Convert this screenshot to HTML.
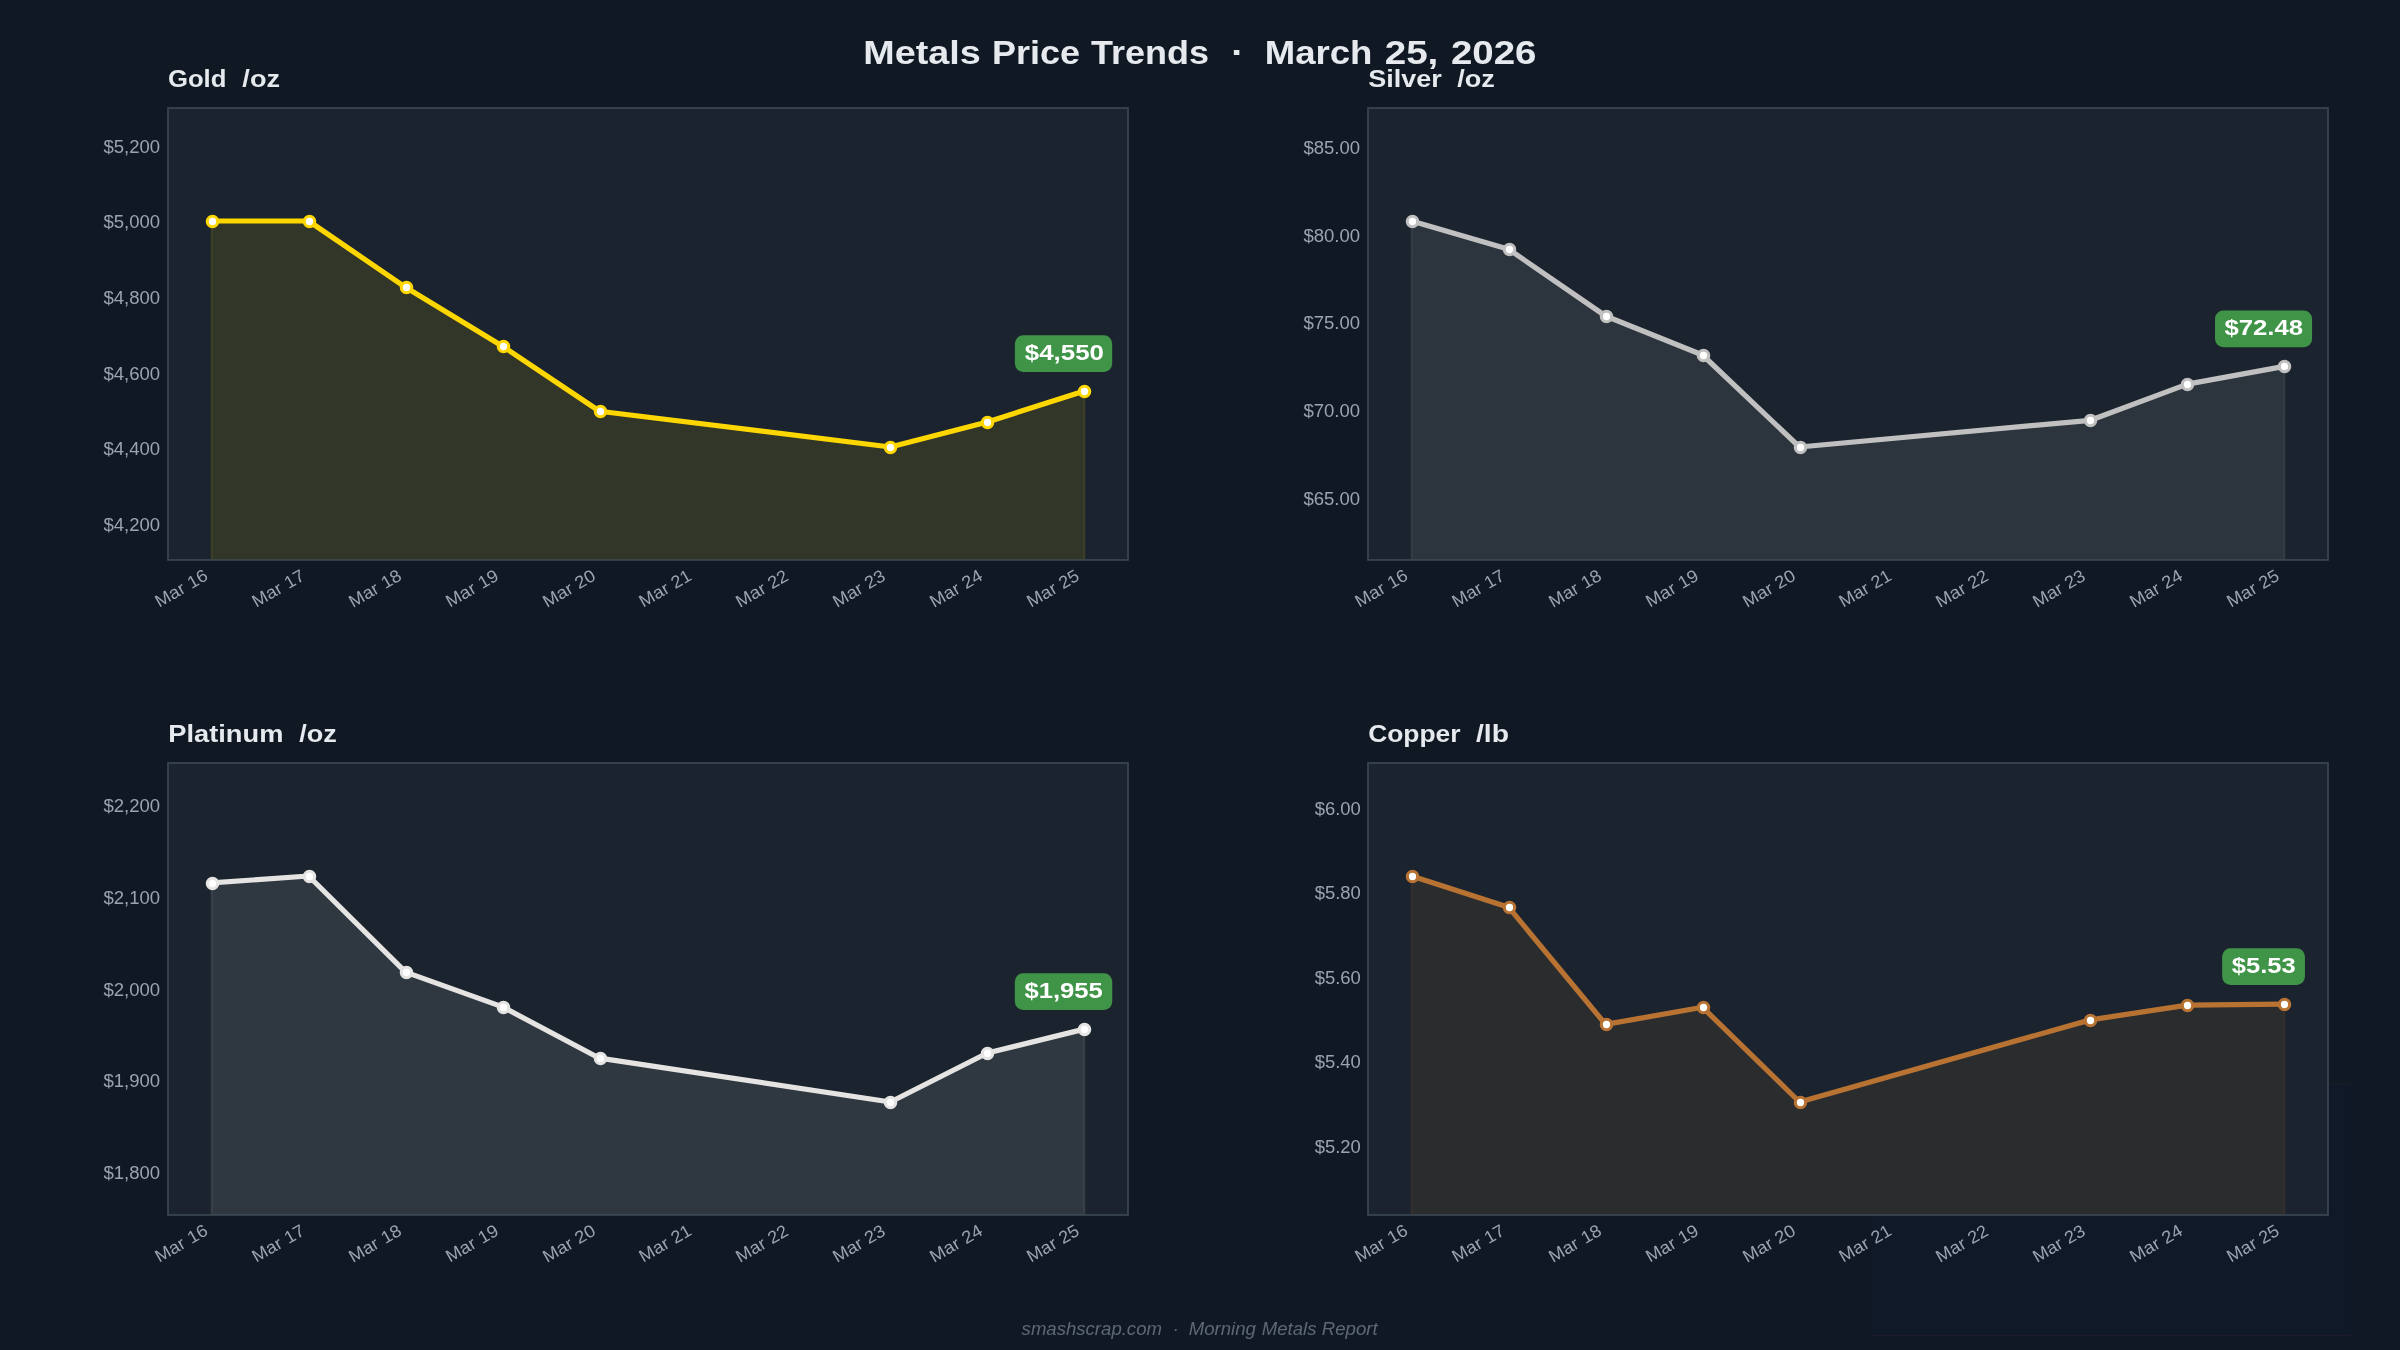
<!DOCTYPE html><html><head><meta charset="utf-8"><style>html,body{margin:0;padding:0;background:#101923;}svg{display:block;will-change:transform}text{font-family:"Liberation Sans",sans-serif;white-space:pre;}</style></head><body>
<svg width="2400" height="1350" viewBox="0 0 2400 1350">
<rect x="0" y="0" width="2400" height="1350" fill="#101923"/>
<rect x="1872" y="1083.5" width="479" height="252" fill="rgb(16,40,160)" fill-opacity="0.035"/>
<line x1="1872" y1="1335.5" x2="2351" y2="1335.5" stroke="rgb(200,60,120)" stroke-opacity="0.08" stroke-width="1"/>
<line x1="2328" y1="1083.5" x2="2351" y2="1083.5" stroke="rgb(200,60,120)" stroke-opacity="0.06" stroke-width="1"/>
<g>
<clipPath id="clip0"><rect x="168.00" y="108.00" width="960.00" height="452.00"/></clipPath>
<rect x="168.00" y="108.00" width="960.00" height="452.00" fill="#1b242e"/>
<polygon points="211.64,560.00 211.64,221.00 308.61,221.00 405.58,287.35 502.55,346.20 599.52,411.26 890.42,447.00 987.39,421.96 1084.36,391.10 1084.36,560.00" fill="#FFD700" fill-opacity="0.1" stroke="#FFD700" stroke-opacity="0.1" stroke-width="2.08" clip-path="url(#clip0)"/>
<polyline points="211.64,221.00 308.61,221.00 405.58,287.35 502.55,346.20 599.52,411.26 890.42,447.00 987.39,421.96 1084.36,391.10" fill="none" stroke="#FFD700" stroke-width="5.21" stroke-linejoin="round" stroke-linecap="butt"/>
<circle cx="212.50" cy="221.50" r="5.21" fill="white" stroke="#FFD700" stroke-width="3.12"/>
<circle cx="309.50" cy="221.50" r="5.21" fill="white" stroke="#FFD700" stroke-width="3.12"/>
<circle cx="406.50" cy="287.50" r="5.21" fill="white" stroke="#FFD700" stroke-width="3.12"/>
<circle cx="503.50" cy="346.50" r="5.21" fill="white" stroke="#FFD700" stroke-width="3.12"/>
<circle cx="600.50" cy="411.50" r="5.21" fill="white" stroke="#FFD700" stroke-width="3.12"/>
<circle cx="890.50" cy="447.50" r="5.21" fill="white" stroke="#FFD700" stroke-width="3.12"/>
<circle cx="987.50" cy="422.50" r="5.21" fill="white" stroke="#FFD700" stroke-width="3.12"/>
<circle cx="1084.50" cy="391.50" r="5.21" fill="white" stroke="#FFD700" stroke-width="3.12"/>
<rect x="168.00" y="108.00" width="960.00" height="452.00" fill="none" stroke="#3a4652" stroke-width="1.67"/>
</g>
<g>
<clipPath id="clip1"><rect x="1368.00" y="108.00" width="960.00" height="452.00"/></clipPath>
<rect x="1368.00" y="108.00" width="960.00" height="452.00" fill="#1b242e"/>
<polygon points="1411.64,560.00 1411.64,221.00 1508.61,249.20 1605.58,316.00 1702.55,355.00 1799.52,447.00 2090.42,420.30 2187.39,384.10 2284.36,366.40 2284.36,560.00" fill="#C0C0C0" fill-opacity="0.1" stroke="#C0C0C0" stroke-opacity="0.1" stroke-width="2.08" clip-path="url(#clip1)"/>
<polyline points="1411.64,221.00 1508.61,249.20 1605.58,316.00 1702.55,355.00 1799.52,447.00 2090.42,420.30 2187.39,384.10 2284.36,366.40" fill="none" stroke="#C0C0C0" stroke-width="5.21" stroke-linejoin="round" stroke-linecap="butt"/>
<circle cx="1412.50" cy="221.50" r="5.21" fill="white" stroke="#C0C0C0" stroke-width="3.12"/>
<circle cx="1509.50" cy="249.50" r="5.21" fill="white" stroke="#C0C0C0" stroke-width="3.12"/>
<circle cx="1606.50" cy="316.50" r="5.21" fill="white" stroke="#C0C0C0" stroke-width="3.12"/>
<circle cx="1703.50" cy="355.50" r="5.21" fill="white" stroke="#C0C0C0" stroke-width="3.12"/>
<circle cx="1800.50" cy="447.50" r="5.21" fill="white" stroke="#C0C0C0" stroke-width="3.12"/>
<circle cx="2090.50" cy="420.50" r="5.21" fill="white" stroke="#C0C0C0" stroke-width="3.12"/>
<circle cx="2187.50" cy="384.50" r="5.21" fill="white" stroke="#C0C0C0" stroke-width="3.12"/>
<circle cx="2284.50" cy="366.50" r="5.21" fill="white" stroke="#C0C0C0" stroke-width="3.12"/>
<rect x="1368.00" y="108.00" width="960.00" height="452.00" fill="none" stroke="#3a4652" stroke-width="1.67"/>
</g>
<g>
<clipPath id="clip2"><rect x="168.00" y="763.00" width="960.00" height="452.00"/></clipPath>
<rect x="168.00" y="763.00" width="960.00" height="452.00" fill="#1b242e"/>
<polygon points="211.64,1215.00 211.64,882.90 308.61,876.00 405.58,972.10 502.55,1006.90 599.52,1058.20 890.42,1102.00 987.39,1053.00 1084.36,1029.10 1084.36,1215.00" fill="#E5E4E2" fill-opacity="0.1" stroke="#E5E4E2" stroke-opacity="0.1" stroke-width="2.08" clip-path="url(#clip2)"/>
<polyline points="211.64,882.90 308.61,876.00 405.58,972.10 502.55,1006.90 599.52,1058.20 890.42,1102.00 987.39,1053.00 1084.36,1029.10" fill="none" stroke="#E5E4E2" stroke-width="5.21" stroke-linejoin="round" stroke-linecap="butt"/>
<circle cx="212.50" cy="883.50" r="5.21" fill="white" stroke="#E5E4E2" stroke-width="3.12"/>
<circle cx="309.50" cy="876.50" r="5.21" fill="white" stroke="#E5E4E2" stroke-width="3.12"/>
<circle cx="406.50" cy="972.50" r="5.21" fill="white" stroke="#E5E4E2" stroke-width="3.12"/>
<circle cx="503.50" cy="1007.50" r="5.21" fill="white" stroke="#E5E4E2" stroke-width="3.12"/>
<circle cx="600.50" cy="1058.50" r="5.21" fill="white" stroke="#E5E4E2" stroke-width="3.12"/>
<circle cx="890.50" cy="1102.50" r="5.21" fill="white" stroke="#E5E4E2" stroke-width="3.12"/>
<circle cx="987.50" cy="1053.50" r="5.21" fill="white" stroke="#E5E4E2" stroke-width="3.12"/>
<circle cx="1084.50" cy="1029.50" r="5.21" fill="white" stroke="#E5E4E2" stroke-width="3.12"/>
<rect x="168.00" y="763.00" width="960.00" height="452.00" fill="none" stroke="#3a4652" stroke-width="1.67"/>
</g>
<g>
<clipPath id="clip3"><rect x="1368.00" y="763.00" width="960.00" height="452.00"/></clipPath>
<rect x="1368.00" y="763.00" width="960.00" height="452.00" fill="#1b242e"/>
<polygon points="1411.64,1215.00 1411.64,876.00 1508.61,907.20 1605.58,1024.38 1702.55,1007.28 1799.52,1102.00 2090.42,1019.88 2187.39,1005.08 2284.36,1004.08 2284.36,1215.00" fill="#B87333" fill-opacity="0.1" stroke="#B87333" stroke-opacity="0.1" stroke-width="2.08" clip-path="url(#clip3)"/>
<polyline points="1411.64,876.00 1508.61,907.20 1605.58,1024.38 1702.55,1007.28 1799.52,1102.00 2090.42,1019.88 2187.39,1005.08 2284.36,1004.08" fill="none" stroke="#B87333" stroke-width="5.21" stroke-linejoin="round" stroke-linecap="butt"/>
<circle cx="1412.50" cy="876.50" r="5.21" fill="white" stroke="#B87333" stroke-width="3.12"/>
<circle cx="1509.50" cy="907.50" r="5.21" fill="white" stroke="#B87333" stroke-width="3.12"/>
<circle cx="1606.50" cy="1024.50" r="5.21" fill="white" stroke="#B87333" stroke-width="3.12"/>
<circle cx="1703.50" cy="1007.50" r="5.21" fill="white" stroke="#B87333" stroke-width="3.12"/>
<circle cx="1800.50" cy="1102.50" r="5.21" fill="white" stroke="#B87333" stroke-width="3.12"/>
<circle cx="2090.50" cy="1020.50" r="5.21" fill="white" stroke="#B87333" stroke-width="3.12"/>
<circle cx="2187.50" cy="1005.50" r="5.21" fill="white" stroke="#B87333" stroke-width="3.12"/>
<circle cx="2284.50" cy="1004.50" r="5.21" fill="white" stroke="#B87333" stroke-width="3.12"/>
<rect x="1368.00" y="763.00" width="960.00" height="452.00" fill="none" stroke="#3a4652" stroke-width="1.67"/>
</g>
<rect x="1014.89" y="335.26" width="97.29" height="36.67" rx="8.33" fill="#409447"/>
<rect x="2215.01" y="310.56" width="97.04" height="36.67" rx="8.33" fill="#409447"/>
<rect x="1014.83" y="973.26" width="97.42" height="36.67" rx="8.33" fill="#409447"/>
<rect x="2222.14" y="948.25" width="82.79" height="36.67" rx="8.33" fill="#409447"/>
<text x="103.40" y="152.60" font-size="17.50" font-weight="normal" font-style="normal" fill="#9aa4af" textLength="56.74" lengthAdjust="spacingAndGlyphs">$5,200</text>
<text x="103.40" y="227.60" font-size="17.50" font-weight="normal" font-style="normal" fill="#9aa4af" textLength="56.74" lengthAdjust="spacingAndGlyphs">$5,000</text>
<text x="103.40" y="303.60" font-size="17.50" font-weight="normal" font-style="normal" fill="#9aa4af" textLength="56.74" lengthAdjust="spacingAndGlyphs">$4,800</text>
<text x="103.40" y="379.60" font-size="17.50" font-weight="normal" font-style="normal" fill="#9aa4af" textLength="56.74" lengthAdjust="spacingAndGlyphs">$4,600</text>
<text x="103.40" y="454.60" font-size="17.50" font-weight="normal" font-style="normal" fill="#9aa4af" textLength="56.74" lengthAdjust="spacingAndGlyphs">$4,400</text>
<text x="103.40" y="530.60" font-size="17.50" font-weight="normal" font-style="normal" fill="#9aa4af" textLength="56.74" lengthAdjust="spacingAndGlyphs">$4,200</text>
<text x="159.31" y="607.77" font-size="17.50" font-weight="normal" font-style="normal" fill="#9aa4af" textLength="31.62" lengthAdjust="spacingAndGlyphs" transform="rotate(-30 159.31 607.77)">Mar</text>
<text x="191.42" y="589.23" font-size="17.50" font-weight="normal" font-style="normal" fill="#9aa4af" textLength="20.55" lengthAdjust="spacingAndGlyphs" transform="rotate(-30 191.42 589.23)">16</text>
<text x="256.31" y="607.76" font-size="17.50" font-weight="normal" font-style="normal" fill="#9aa4af" textLength="31.62" lengthAdjust="spacingAndGlyphs" transform="rotate(-30 256.31 607.76)">Mar</text>
<text x="288.44" y="589.21" font-size="17.50" font-weight="normal" font-style="normal" fill="#9aa4af" textLength="20.28" lengthAdjust="spacingAndGlyphs" transform="rotate(-30 288.44 589.21)">17</text>
<text x="353.04" y="607.92" font-size="17.50" font-weight="normal" font-style="normal" fill="#9aa4af" textLength="31.62" lengthAdjust="spacingAndGlyphs" transform="rotate(-30 353.04 607.92)">Mar</text>
<text x="385.16" y="589.37" font-size="17.50" font-weight="normal" font-style="normal" fill="#9aa4af" textLength="20.45" lengthAdjust="spacingAndGlyphs" transform="rotate(-30 385.16 589.37)">18</text>
<text x="450.12" y="607.84" font-size="17.50" font-weight="normal" font-style="normal" fill="#9aa4af" textLength="31.62" lengthAdjust="spacingAndGlyphs" transform="rotate(-30 450.12 607.84)">Mar</text>
<text x="482.24" y="589.30" font-size="17.50" font-weight="normal" font-style="normal" fill="#9aa4af" textLength="20.46" lengthAdjust="spacingAndGlyphs" transform="rotate(-30 482.24 589.30)">19</text>
<text x="547.07" y="607.94" font-size="17.50" font-weight="normal" font-style="normal" fill="#9aa4af" textLength="31.62" lengthAdjust="spacingAndGlyphs" transform="rotate(-30 547.07 607.94)">Mar</text>
<text x="579.04" y="589.48" font-size="17.50" font-weight="normal" font-style="normal" fill="#9aa4af" textLength="20.58" lengthAdjust="spacingAndGlyphs" transform="rotate(-30 579.04 589.48)">20</text>
<text x="643.33" y="607.78" font-size="17.50" font-weight="normal" font-style="normal" fill="#9aa4af" textLength="31.62" lengthAdjust="spacingAndGlyphs" transform="rotate(-30 643.33 607.78)">Mar</text>
<text x="675.31" y="589.32" font-size="17.50" font-weight="normal" font-style="normal" fill="#9aa4af" textLength="20.32" lengthAdjust="spacingAndGlyphs" transform="rotate(-30 675.31 589.32)">21</text>
<text x="740.11" y="607.95" font-size="17.50" font-weight="normal" font-style="normal" fill="#9aa4af" textLength="31.62" lengthAdjust="spacingAndGlyphs" transform="rotate(-30 740.11 607.95)">Mar</text>
<text x="772.09" y="589.48" font-size="17.50" font-weight="normal" font-style="normal" fill="#9aa4af" textLength="20.24" lengthAdjust="spacingAndGlyphs" transform="rotate(-30 772.09 589.48)">22</text>
<text x="836.91" y="608.02" font-size="17.50" font-weight="normal" font-style="normal" fill="#9aa4af" textLength="31.62" lengthAdjust="spacingAndGlyphs" transform="rotate(-30 836.91 608.02)">Mar</text>
<text x="868.89" y="589.56" font-size="17.50" font-weight="normal" font-style="normal" fill="#9aa4af" textLength="20.45" lengthAdjust="spacingAndGlyphs" transform="rotate(-30 868.89 589.56)">23</text>
<text x="934.09" y="607.96" font-size="17.50" font-weight="normal" font-style="normal" fill="#9aa4af" textLength="31.62" lengthAdjust="spacingAndGlyphs" transform="rotate(-30 934.09 607.96)">Mar</text>
<text x="966.06" y="589.50" font-size="17.50" font-weight="normal" font-style="normal" fill="#9aa4af" textLength="20.56" lengthAdjust="spacingAndGlyphs" transform="rotate(-30 966.06 589.50)">24</text>
<text x="1031.08" y="607.86" font-size="17.50" font-weight="normal" font-style="normal" fill="#9aa4af" textLength="31.62" lengthAdjust="spacingAndGlyphs" transform="rotate(-30 1031.08 607.86)">Mar</text>
<text x="1063.07" y="589.39" font-size="17.50" font-weight="normal" font-style="normal" fill="#9aa4af" textLength="20.27" lengthAdjust="spacingAndGlyphs" transform="rotate(-30 1063.07 589.39)">25</text>
<text x="167.97" y="86.65" font-size="24.06" font-weight="bold" font-style="normal" fill="#e6e9ed" textLength="58.44" lengthAdjust="spacingAndGlyphs">Gold</text>
<text x="242.36" y="86.65" font-size="24.06" font-weight="bold" font-style="normal" fill="#e6e9ed" textLength="37.63" lengthAdjust="spacingAndGlyphs">/oz</text>
<text x="1024.80" y="359.88" font-size="21.88" font-weight="bold" font-style="normal" fill="#ffffff" textLength="79.15" lengthAdjust="spacingAndGlyphs">$4,550</text>
<text x="1303.40" y="153.60" font-size="17.50" font-weight="normal" font-style="normal" fill="#9aa4af" textLength="56.74" lengthAdjust="spacingAndGlyphs">$85.00</text>
<text x="1303.40" y="241.60" font-size="17.50" font-weight="normal" font-style="normal" fill="#9aa4af" textLength="56.74" lengthAdjust="spacingAndGlyphs">$80.00</text>
<text x="1303.40" y="328.60" font-size="17.50" font-weight="normal" font-style="normal" fill="#9aa4af" textLength="56.74" lengthAdjust="spacingAndGlyphs">$75.00</text>
<text x="1303.40" y="416.60" font-size="17.50" font-weight="normal" font-style="normal" fill="#9aa4af" textLength="56.74" lengthAdjust="spacingAndGlyphs">$70.00</text>
<text x="1303.40" y="504.60" font-size="17.50" font-weight="normal" font-style="normal" fill="#9aa4af" textLength="56.74" lengthAdjust="spacingAndGlyphs">$65.00</text>
<text x="1359.31" y="607.77" font-size="17.50" font-weight="normal" font-style="normal" fill="#9aa4af" textLength="31.62" lengthAdjust="spacingAndGlyphs" transform="rotate(-30 1359.31 607.77)">Mar</text>
<text x="1391.42" y="589.23" font-size="17.50" font-weight="normal" font-style="normal" fill="#9aa4af" textLength="20.55" lengthAdjust="spacingAndGlyphs" transform="rotate(-30 1391.42 589.23)">16</text>
<text x="1456.31" y="607.76" font-size="17.50" font-weight="normal" font-style="normal" fill="#9aa4af" textLength="31.62" lengthAdjust="spacingAndGlyphs" transform="rotate(-30 1456.31 607.76)">Mar</text>
<text x="1488.44" y="589.21" font-size="17.50" font-weight="normal" font-style="normal" fill="#9aa4af" textLength="20.28" lengthAdjust="spacingAndGlyphs" transform="rotate(-30 1488.44 589.21)">17</text>
<text x="1553.04" y="607.92" font-size="17.50" font-weight="normal" font-style="normal" fill="#9aa4af" textLength="31.62" lengthAdjust="spacingAndGlyphs" transform="rotate(-30 1553.04 607.92)">Mar</text>
<text x="1585.16" y="589.37" font-size="17.50" font-weight="normal" font-style="normal" fill="#9aa4af" textLength="20.45" lengthAdjust="spacingAndGlyphs" transform="rotate(-30 1585.16 589.37)">18</text>
<text x="1650.12" y="607.84" font-size="17.50" font-weight="normal" font-style="normal" fill="#9aa4af" textLength="31.62" lengthAdjust="spacingAndGlyphs" transform="rotate(-30 1650.12 607.84)">Mar</text>
<text x="1682.24" y="589.30" font-size="17.50" font-weight="normal" font-style="normal" fill="#9aa4af" textLength="20.46" lengthAdjust="spacingAndGlyphs" transform="rotate(-30 1682.24 589.30)">19</text>
<text x="1747.07" y="607.94" font-size="17.50" font-weight="normal" font-style="normal" fill="#9aa4af" textLength="31.62" lengthAdjust="spacingAndGlyphs" transform="rotate(-30 1747.07 607.94)">Mar</text>
<text x="1779.04" y="589.48" font-size="17.50" font-weight="normal" font-style="normal" fill="#9aa4af" textLength="20.58" lengthAdjust="spacingAndGlyphs" transform="rotate(-30 1779.04 589.48)">20</text>
<text x="1843.33" y="607.78" font-size="17.50" font-weight="normal" font-style="normal" fill="#9aa4af" textLength="31.62" lengthAdjust="spacingAndGlyphs" transform="rotate(-30 1843.33 607.78)">Mar</text>
<text x="1875.31" y="589.32" font-size="17.50" font-weight="normal" font-style="normal" fill="#9aa4af" textLength="20.32" lengthAdjust="spacingAndGlyphs" transform="rotate(-30 1875.31 589.32)">21</text>
<text x="1940.11" y="607.95" font-size="17.50" font-weight="normal" font-style="normal" fill="#9aa4af" textLength="31.62" lengthAdjust="spacingAndGlyphs" transform="rotate(-30 1940.11 607.95)">Mar</text>
<text x="1972.09" y="589.48" font-size="17.50" font-weight="normal" font-style="normal" fill="#9aa4af" textLength="20.24" lengthAdjust="spacingAndGlyphs" transform="rotate(-30 1972.09 589.48)">22</text>
<text x="2036.91" y="608.02" font-size="17.50" font-weight="normal" font-style="normal" fill="#9aa4af" textLength="31.62" lengthAdjust="spacingAndGlyphs" transform="rotate(-30 2036.91 608.02)">Mar</text>
<text x="2068.89" y="589.56" font-size="17.50" font-weight="normal" font-style="normal" fill="#9aa4af" textLength="20.45" lengthAdjust="spacingAndGlyphs" transform="rotate(-30 2068.89 589.56)">23</text>
<text x="2134.09" y="607.96" font-size="17.50" font-weight="normal" font-style="normal" fill="#9aa4af" textLength="31.62" lengthAdjust="spacingAndGlyphs" transform="rotate(-30 2134.09 607.96)">Mar</text>
<text x="2166.06" y="589.50" font-size="17.50" font-weight="normal" font-style="normal" fill="#9aa4af" textLength="20.56" lengthAdjust="spacingAndGlyphs" transform="rotate(-30 2166.06 589.50)">24</text>
<text x="2231.08" y="607.86" font-size="17.50" font-weight="normal" font-style="normal" fill="#9aa4af" textLength="31.62" lengthAdjust="spacingAndGlyphs" transform="rotate(-30 2231.08 607.86)">Mar</text>
<text x="2263.07" y="589.39" font-size="17.50" font-weight="normal" font-style="normal" fill="#9aa4af" textLength="20.27" lengthAdjust="spacingAndGlyphs" transform="rotate(-30 2263.07 589.39)">25</text>
<text x="1368.36" y="86.65" font-size="24.06" font-weight="bold" font-style="normal" fill="#e6e9ed" textLength="73.44" lengthAdjust="spacingAndGlyphs">Silver</text>
<text x="1457.19" y="86.65" font-size="24.06" font-weight="bold" font-style="normal" fill="#e6e9ed" textLength="37.63" lengthAdjust="spacingAndGlyphs">/oz</text>
<text x="2224.43" y="334.88" font-size="21.88" font-weight="bold" font-style="normal" fill="#ffffff" textLength="78.62" lengthAdjust="spacingAndGlyphs">$72.48</text>
<text x="103.40" y="811.60" font-size="17.50" font-weight="normal" font-style="normal" fill="#9aa4af" textLength="56.74" lengthAdjust="spacingAndGlyphs">$2,200</text>
<text x="103.40" y="903.60" font-size="17.50" font-weight="normal" font-style="normal" fill="#9aa4af" textLength="56.74" lengthAdjust="spacingAndGlyphs">$2,100</text>
<text x="103.40" y="995.60" font-size="17.50" font-weight="normal" font-style="normal" fill="#9aa4af" textLength="56.74" lengthAdjust="spacingAndGlyphs">$2,000</text>
<text x="103.40" y="1086.60" font-size="17.50" font-weight="normal" font-style="normal" fill="#9aa4af" textLength="56.74" lengthAdjust="spacingAndGlyphs">$1,900</text>
<text x="103.40" y="1178.60" font-size="17.50" font-weight="normal" font-style="normal" fill="#9aa4af" textLength="56.74" lengthAdjust="spacingAndGlyphs">$1,800</text>
<text x="159.31" y="1262.77" font-size="17.50" font-weight="normal" font-style="normal" fill="#9aa4af" textLength="31.62" lengthAdjust="spacingAndGlyphs" transform="rotate(-30 159.31 1262.77)">Mar</text>
<text x="191.42" y="1244.23" font-size="17.50" font-weight="normal" font-style="normal" fill="#9aa4af" textLength="20.55" lengthAdjust="spacingAndGlyphs" transform="rotate(-30 191.42 1244.23)">16</text>
<text x="256.31" y="1262.76" font-size="17.50" font-weight="normal" font-style="normal" fill="#9aa4af" textLength="31.62" lengthAdjust="spacingAndGlyphs" transform="rotate(-30 256.31 1262.76)">Mar</text>
<text x="288.44" y="1244.21" font-size="17.50" font-weight="normal" font-style="normal" fill="#9aa4af" textLength="20.28" lengthAdjust="spacingAndGlyphs" transform="rotate(-30 288.44 1244.21)">17</text>
<text x="353.04" y="1262.92" font-size="17.50" font-weight="normal" font-style="normal" fill="#9aa4af" textLength="31.62" lengthAdjust="spacingAndGlyphs" transform="rotate(-30 353.04 1262.92)">Mar</text>
<text x="385.16" y="1244.37" font-size="17.50" font-weight="normal" font-style="normal" fill="#9aa4af" textLength="20.45" lengthAdjust="spacingAndGlyphs" transform="rotate(-30 385.16 1244.37)">18</text>
<text x="450.12" y="1262.84" font-size="17.50" font-weight="normal" font-style="normal" fill="#9aa4af" textLength="31.62" lengthAdjust="spacingAndGlyphs" transform="rotate(-30 450.12 1262.84)">Mar</text>
<text x="482.24" y="1244.30" font-size="17.50" font-weight="normal" font-style="normal" fill="#9aa4af" textLength="20.46" lengthAdjust="spacingAndGlyphs" transform="rotate(-30 482.24 1244.30)">19</text>
<text x="547.07" y="1262.94" font-size="17.50" font-weight="normal" font-style="normal" fill="#9aa4af" textLength="31.62" lengthAdjust="spacingAndGlyphs" transform="rotate(-30 547.07 1262.94)">Mar</text>
<text x="579.04" y="1244.48" font-size="17.50" font-weight="normal" font-style="normal" fill="#9aa4af" textLength="20.58" lengthAdjust="spacingAndGlyphs" transform="rotate(-30 579.04 1244.48)">20</text>
<text x="643.33" y="1262.78" font-size="17.50" font-weight="normal" font-style="normal" fill="#9aa4af" textLength="31.62" lengthAdjust="spacingAndGlyphs" transform="rotate(-30 643.33 1262.78)">Mar</text>
<text x="675.31" y="1244.32" font-size="17.50" font-weight="normal" font-style="normal" fill="#9aa4af" textLength="20.32" lengthAdjust="spacingAndGlyphs" transform="rotate(-30 675.31 1244.32)">21</text>
<text x="740.11" y="1262.95" font-size="17.50" font-weight="normal" font-style="normal" fill="#9aa4af" textLength="31.62" lengthAdjust="spacingAndGlyphs" transform="rotate(-30 740.11 1262.95)">Mar</text>
<text x="772.09" y="1244.48" font-size="17.50" font-weight="normal" font-style="normal" fill="#9aa4af" textLength="20.24" lengthAdjust="spacingAndGlyphs" transform="rotate(-30 772.09 1244.48)">22</text>
<text x="836.91" y="1263.02" font-size="17.50" font-weight="normal" font-style="normal" fill="#9aa4af" textLength="31.62" lengthAdjust="spacingAndGlyphs" transform="rotate(-30 836.91 1263.02)">Mar</text>
<text x="868.89" y="1244.56" font-size="17.50" font-weight="normal" font-style="normal" fill="#9aa4af" textLength="20.45" lengthAdjust="spacingAndGlyphs" transform="rotate(-30 868.89 1244.56)">23</text>
<text x="934.09" y="1262.96" font-size="17.50" font-weight="normal" font-style="normal" fill="#9aa4af" textLength="31.62" lengthAdjust="spacingAndGlyphs" transform="rotate(-30 934.09 1262.96)">Mar</text>
<text x="966.06" y="1244.50" font-size="17.50" font-weight="normal" font-style="normal" fill="#9aa4af" textLength="20.56" lengthAdjust="spacingAndGlyphs" transform="rotate(-30 966.06 1244.50)">24</text>
<text x="1031.08" y="1262.86" font-size="17.50" font-weight="normal" font-style="normal" fill="#9aa4af" textLength="31.62" lengthAdjust="spacingAndGlyphs" transform="rotate(-30 1031.08 1262.86)">Mar</text>
<text x="1063.07" y="1244.39" font-size="17.50" font-weight="normal" font-style="normal" fill="#9aa4af" textLength="20.27" lengthAdjust="spacingAndGlyphs" transform="rotate(-30 1063.07 1244.39)">25</text>
<text x="168.35" y="741.65" font-size="24.06" font-weight="bold" font-style="normal" fill="#e6e9ed" textLength="115.04" lengthAdjust="spacingAndGlyphs">Platinum</text>
<text x="299.19" y="741.65" font-size="24.06" font-weight="bold" font-style="normal" fill="#e6e9ed" textLength="37.63" lengthAdjust="spacingAndGlyphs">/oz</text>
<text x="1024.53" y="997.88" font-size="21.88" font-weight="bold" font-style="normal" fill="#ffffff" textLength="78.35" lengthAdjust="spacingAndGlyphs">$1,955</text>
<text x="1314.69" y="814.60" font-size="17.50" font-weight="normal" font-style="normal" fill="#9aa4af" textLength="46.13" lengthAdjust="spacingAndGlyphs">$6.00</text>
<text x="1314.69" y="898.60" font-size="17.50" font-weight="normal" font-style="normal" fill="#9aa4af" textLength="46.13" lengthAdjust="spacingAndGlyphs">$5.80</text>
<text x="1314.69" y="983.60" font-size="17.50" font-weight="normal" font-style="normal" fill="#9aa4af" textLength="46.13" lengthAdjust="spacingAndGlyphs">$5.60</text>
<text x="1314.69" y="1067.60" font-size="17.50" font-weight="normal" font-style="normal" fill="#9aa4af" textLength="46.13" lengthAdjust="spacingAndGlyphs">$5.40</text>
<text x="1314.69" y="1152.60" font-size="17.50" font-weight="normal" font-style="normal" fill="#9aa4af" textLength="46.13" lengthAdjust="spacingAndGlyphs">$5.20</text>
<text x="1359.31" y="1262.77" font-size="17.50" font-weight="normal" font-style="normal" fill="#9aa4af" textLength="31.62" lengthAdjust="spacingAndGlyphs" transform="rotate(-30 1359.31 1262.77)">Mar</text>
<text x="1391.42" y="1244.23" font-size="17.50" font-weight="normal" font-style="normal" fill="#9aa4af" textLength="20.55" lengthAdjust="spacingAndGlyphs" transform="rotate(-30 1391.42 1244.23)">16</text>
<text x="1456.31" y="1262.76" font-size="17.50" font-weight="normal" font-style="normal" fill="#9aa4af" textLength="31.62" lengthAdjust="spacingAndGlyphs" transform="rotate(-30 1456.31 1262.76)">Mar</text>
<text x="1488.44" y="1244.21" font-size="17.50" font-weight="normal" font-style="normal" fill="#9aa4af" textLength="20.28" lengthAdjust="spacingAndGlyphs" transform="rotate(-30 1488.44 1244.21)">17</text>
<text x="1553.04" y="1262.92" font-size="17.50" font-weight="normal" font-style="normal" fill="#9aa4af" textLength="31.62" lengthAdjust="spacingAndGlyphs" transform="rotate(-30 1553.04 1262.92)">Mar</text>
<text x="1585.16" y="1244.37" font-size="17.50" font-weight="normal" font-style="normal" fill="#9aa4af" textLength="20.45" lengthAdjust="spacingAndGlyphs" transform="rotate(-30 1585.16 1244.37)">18</text>
<text x="1650.12" y="1262.84" font-size="17.50" font-weight="normal" font-style="normal" fill="#9aa4af" textLength="31.62" lengthAdjust="spacingAndGlyphs" transform="rotate(-30 1650.12 1262.84)">Mar</text>
<text x="1682.24" y="1244.30" font-size="17.50" font-weight="normal" font-style="normal" fill="#9aa4af" textLength="20.46" lengthAdjust="spacingAndGlyphs" transform="rotate(-30 1682.24 1244.30)">19</text>
<text x="1747.07" y="1262.94" font-size="17.50" font-weight="normal" font-style="normal" fill="#9aa4af" textLength="31.62" lengthAdjust="spacingAndGlyphs" transform="rotate(-30 1747.07 1262.94)">Mar</text>
<text x="1779.04" y="1244.48" font-size="17.50" font-weight="normal" font-style="normal" fill="#9aa4af" textLength="20.58" lengthAdjust="spacingAndGlyphs" transform="rotate(-30 1779.04 1244.48)">20</text>
<text x="1843.33" y="1262.78" font-size="17.50" font-weight="normal" font-style="normal" fill="#9aa4af" textLength="31.62" lengthAdjust="spacingAndGlyphs" transform="rotate(-30 1843.33 1262.78)">Mar</text>
<text x="1875.31" y="1244.32" font-size="17.50" font-weight="normal" font-style="normal" fill="#9aa4af" textLength="20.32" lengthAdjust="spacingAndGlyphs" transform="rotate(-30 1875.31 1244.32)">21</text>
<text x="1940.11" y="1262.95" font-size="17.50" font-weight="normal" font-style="normal" fill="#9aa4af" textLength="31.62" lengthAdjust="spacingAndGlyphs" transform="rotate(-30 1940.11 1262.95)">Mar</text>
<text x="1972.09" y="1244.48" font-size="17.50" font-weight="normal" font-style="normal" fill="#9aa4af" textLength="20.24" lengthAdjust="spacingAndGlyphs" transform="rotate(-30 1972.09 1244.48)">22</text>
<text x="2036.91" y="1263.02" font-size="17.50" font-weight="normal" font-style="normal" fill="#9aa4af" textLength="31.62" lengthAdjust="spacingAndGlyphs" transform="rotate(-30 2036.91 1263.02)">Mar</text>
<text x="2068.89" y="1244.56" font-size="17.50" font-weight="normal" font-style="normal" fill="#9aa4af" textLength="20.45" lengthAdjust="spacingAndGlyphs" transform="rotate(-30 2068.89 1244.56)">23</text>
<text x="2134.09" y="1262.96" font-size="17.50" font-weight="normal" font-style="normal" fill="#9aa4af" textLength="31.62" lengthAdjust="spacingAndGlyphs" transform="rotate(-30 2134.09 1262.96)">Mar</text>
<text x="2166.06" y="1244.50" font-size="17.50" font-weight="normal" font-style="normal" fill="#9aa4af" textLength="20.56" lengthAdjust="spacingAndGlyphs" transform="rotate(-30 2166.06 1244.50)">24</text>
<text x="2231.08" y="1262.86" font-size="17.50" font-weight="normal" font-style="normal" fill="#9aa4af" textLength="31.62" lengthAdjust="spacingAndGlyphs" transform="rotate(-30 2231.08 1262.86)">Mar</text>
<text x="2263.07" y="1244.39" font-size="17.50" font-weight="normal" font-style="normal" fill="#9aa4af" textLength="20.27" lengthAdjust="spacingAndGlyphs" transform="rotate(-30 2263.07 1244.39)">25</text>
<text x="1368.15" y="741.83" font-size="24.06" font-weight="bold" font-style="normal" fill="#e6e9ed" textLength="92.43" lengthAdjust="spacingAndGlyphs">Copper</text>
<text x="1475.95" y="741.83" font-size="24.06" font-weight="bold" font-style="normal" fill="#e6e9ed" textLength="33.03" lengthAdjust="spacingAndGlyphs">/lb</text>
<text x="2231.85" y="972.88" font-size="21.88" font-weight="bold" font-style="normal" fill="#ffffff" textLength="63.87" lengthAdjust="spacingAndGlyphs">$5.53</text>
<text x="863.38" y="64.19" font-size="32.81" font-weight="bold" font-style="normal" fill="#e6e9ed" textLength="117.43" lengthAdjust="spacingAndGlyphs">Metals</text>
<text x="992.01" y="64.19" font-size="32.81" font-weight="bold" font-style="normal" fill="#e6e9ed" textLength="88.02" lengthAdjust="spacingAndGlyphs">Price</text>
<text x="1090.97" y="64.19" font-size="32.81" font-weight="bold" font-style="normal" fill="#e6e9ed" textLength="117.94" lengthAdjust="spacingAndGlyphs">Trends</text>
<text x="1231.26" y="64.19" font-size="32.81" font-weight="bold" font-style="normal" fill="#e6e9ed" textLength="12.78" lengthAdjust="spacingAndGlyphs">·</text>
<text x="1264.70" y="64.19" font-size="32.81" font-weight="bold" font-style="normal" fill="#e6e9ed" textLength="107.72" lengthAdjust="spacingAndGlyphs">March</text>
<text x="1384.68" y="64.19" font-size="32.81" font-weight="bold" font-style="normal" fill="#e6e9ed" textLength="53.65" lengthAdjust="spacingAndGlyphs">25,</text>
<text x="1450.92" y="64.19" font-size="32.81" font-weight="bold" font-style="normal" fill="#e6e9ed" textLength="85.59" lengthAdjust="spacingAndGlyphs">2026</text>
<text x="1021.62" y="1334.60" font-size="17.50" font-weight="normal" font-style="italic" fill="#5d6875" textLength="140.34" lengthAdjust="spacingAndGlyphs">smashscrap.com</text>
<text x="1172.87" y="1334.60" font-size="17.50" font-weight="normal" font-style="italic" fill="#5d6875" textLength="5.90" lengthAdjust="spacingAndGlyphs">·</text>
<text x="1188.66" y="1334.60" font-size="17.50" font-weight="normal" font-style="italic" fill="#5d6875" textLength="67.33" lengthAdjust="spacingAndGlyphs">Morning</text>
<text x="1261.72" y="1334.60" font-size="17.50" font-weight="normal" font-style="italic" fill="#5d6875" textLength="54.81" lengthAdjust="spacingAndGlyphs">Metals</text>
<text x="1321.72" y="1334.60" font-size="17.50" font-weight="normal" font-style="italic" fill="#5d6875" textLength="55.98" lengthAdjust="spacingAndGlyphs">Report</text>
</svg></body></html>
